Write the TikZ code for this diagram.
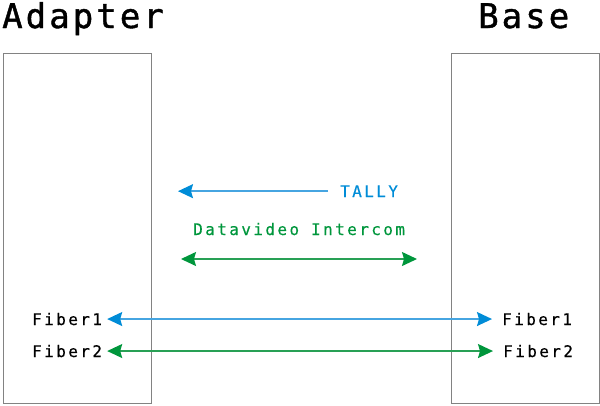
\documentclass[tikz,border=0pt]{standalone}
\usepackage{fontspec}
\usepackage{tikz}
\usetikzlibrary{arrows.meta}
\newfontfamily\titlefont[LetterSpace=9, FakeBold=1.2]{DejaVu Sans Mono}
\newfontfamily\labelfont[LetterSpace=15, FakeBold=0.4]{DejaVu Sans Mono}
\definecolor{tallyblue}{RGB}{0,140,215}
\definecolor{tallyline}{RGB}{70,165,225}
\definecolor{comgreen}{RGB}{0,150,60}
\definecolor{comline}{RGB}{40,160,85}
\definecolor{boxgray}{RGB}{130,130,130}

\tikzset{
	bluehead/.tip={Stealth[length=15pt, width=14pt, inset=2pt, color=tallyblue]},
	greenhead/.tip={Stealth[length=15pt, width=14pt, inset=2pt, color=comgreen]},
}

\begin{document}
\begin{tikzpicture}[x=1pt, y=-1pt,
		unitbox/.style={draw=boxgray, line width=1.1pt, anchor=north west, minimum width=148pt, minimum height=350pt, inner sep=0},
		title/.style={anchor=base west, inner sep=0, font=\titlefont\fontsize{34}{40}\selectfont},
		label/.style={anchor=base west, inner sep=0, font=\labelfont\fontsize{16}{19}\selectfont},
		blueline/.style={draw=tallyline, line width=1.4pt},
		greenline/.style={draw=comline, line width=1.4pt}]
	\useasboundingbox (0,0) rectangle (600,405);

	\node[unitbox] (adapter) at (2.5,52.5) {};
	\node[unitbox] (base) at (450.5,52.5) {};
	\node[title] (adaptertitle) at (2,28) {Adapter};
	\node[title] (basetitle) at (478,28) {Base};

	\node[label, text=tallyblue] (tally) at (340,197) {TALLY};
	\node[label, text=comgreen] (intercom) at (193,235) {Datavideo Intercom};
	\coordinate (T) at (178,193);
	\coordinate (L) at (181,259);
	\coordinate (R) at (417,259);

	\node[label] (fa1) at (32,325) {Fiber1};
	\node[label] (fb1) at (502,325) {Fiber1};
	\node[label] (fa2) at (32,357) {Fiber2};
	\node[label] (fb2) at (503,357) {Fiber2};

	\draw[blueline, -bluehead, shorten <=12pt] (tally.west) -- (T |- tally.west);
	\draw[greenline, greenhead-greenhead] (L) -- (R);
	\foreach \s/\t/\c in {fa1/fb1/blue, fa2/fb2/green} {
		\draw[\c line, \c head-\c head, shorten <=5pt, shorten >=10pt] (\s.east) -- (\t.west);
	}
\end{tikzpicture}
\end{document}
